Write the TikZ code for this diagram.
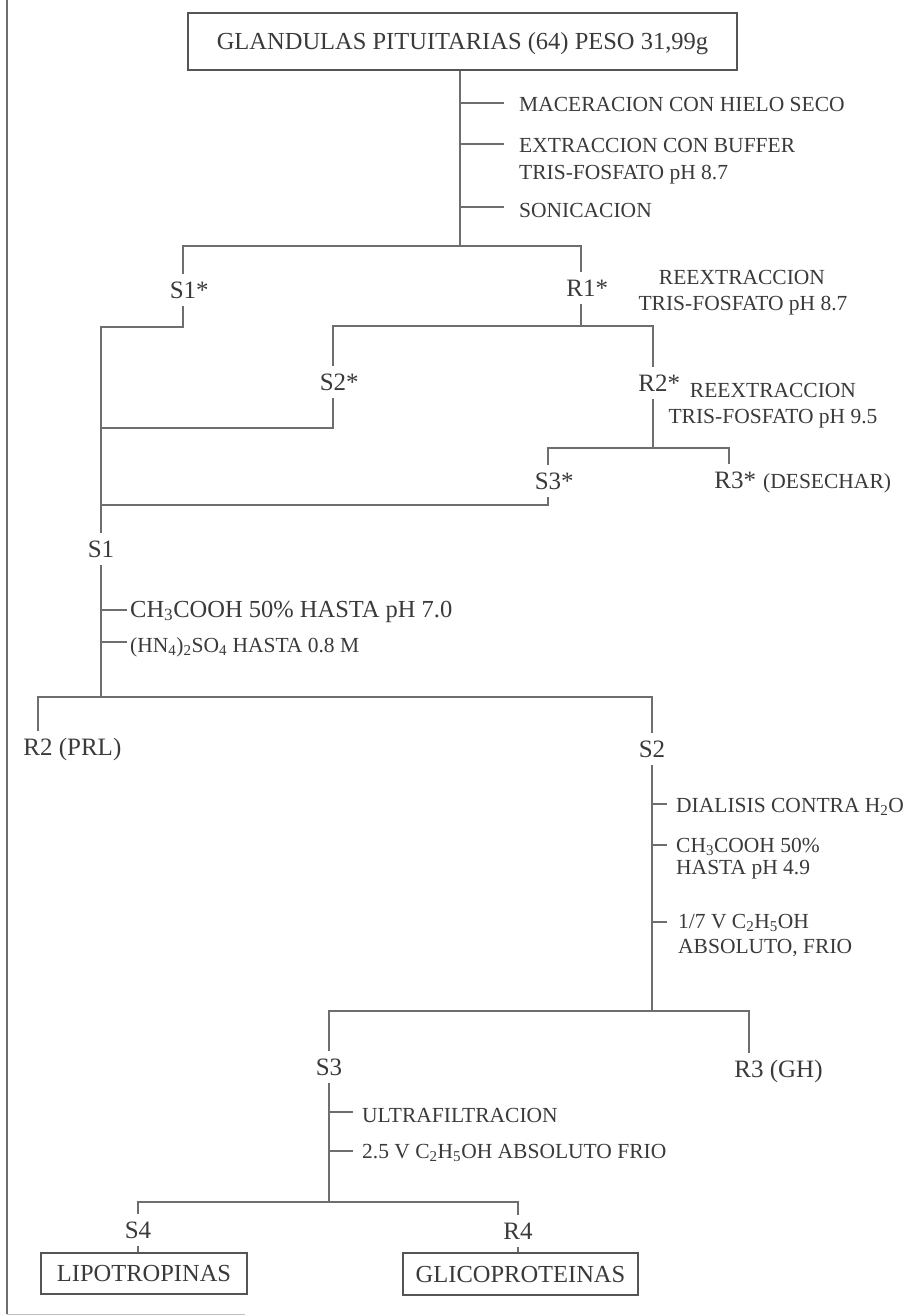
\documentclass[tikz,border=0pt]{standalone}
\usepackage{fontspec}
\setmainfont{Liberation Serif}
\definecolor{txt}{HTML}{3A3A3A}
\definecolor{ln}{HTML}{6E6E6E}
\definecolor{boxc}{HTML}{555555}
\begin{document}
\begin{tikzpicture}[x=1pt,y=-1pt,
  lbl/.style={font=\fontsize{25}{30}\selectfont, text=txt, inner sep=0pt, outer xsep=0pt, outer ysep=8pt, text height=16.5pt, text depth=0pt, anchor=base},
  note/.style={font=\fontsize{21.5}{25}\selectfont, text=txt, inner sep=0pt, anchor=base west},
  notec/.style={font=\fontsize{21.5}{25}\selectfont, text=txt, inner sep=0pt, anchor=base},
  bignote/.style={font=\fontsize{24.5}{29}\selectfont, text=txt, inner sep=0pt, anchor=base west},
  boxnode/.style={draw=boxc, line width=1.6pt, inner sep=0pt, text height=16pt, text depth=0pt, font=\fontsize{24.5}{29}\selectfont, text=txt},
  wire/.style={draw=ln, line width=1.4pt},
  tick/.style={draw=ln, line width=1.3pt}]
\useasboundingbox (0,0) rectangle (908,1316);
% frame remnants
\coordinate (fa) at (7,0);
\coordinate (fb) at (7,1314);
\coordinate (fc) at (245,1314);
\draw[draw=ln, line width=1.4pt] (fa) -- (fb);
\draw[draw=ln!45, line width=1pt] (fb) -- (fc);

% boxes
\node[boxnode, minimum width=549pt, minimum height=57pt] (top) at (462.5,41.5) {GLANDULAS PITUITARIAS (64) PESO 31,99g};
\node[boxnode, minimum width=206pt, minimum height=41pt] (lipo) at (144,1273.5) {LIPOTROPINAS};
\node[boxnode, minimum width=235pt, minimum height=42pt] (glico) at (520.5,1274) {GLICOPROTEINAS};

% labels
\node[lbl] (s1s) at (183,298) {S1\rlap{*}};
\node[lbl] (r1s) at (581,296) {R1\rlap{*}};
\node[lbl] (s2s) at (333,390) {S2\rlap{*}};
\node[lbl] (r2s) at (653,391) {R2\rlap{*}};
\node[lbl] (s3s) at (548,489) {S3\rlap{*}};
\node[lbl] (r3s) at (729,488) {R3\rlap{*}};
\node[note] (desechar) at (763,488) {(DESECHAR)};
\node[lbl] (s1) at (101,557) {S1};
\node[lbl] (r2prl) at (38,755) {R2\rlap{ (PRL)}};
\node[lbl] (s2) at (652,757) {S2};
\node[lbl] (s3) at (329,1075) {S3};
\node[lbl] (r3gh) at (749,1077) {R3\rlap{ (GH)}};
\node[lbl] (s4) at (138,1238) {S4};
\node[lbl] (r4) at (518,1239) {R4};

% annotations
\node[note] (n1) at (519,112) {MACERACION CON HIELO SECO};
\node[note] (n2) at (519,153) {EXTRACCION CON BUFFER};
\node[note] (n2b) at (519,179) {TRIS-FOSFATO pH 8.7};
\node[note] (n3) at (519,217) {SONICACION};
\node[notec] (re1) at (742,284) {REEXTRACCION};
\node[notec] (re1b) at (743,310) {TRIS-FOSFATO pH 8.7};
\node[notec] (re2) at (773,397) {REEXTRACCION};
\node[notec] (re2b) at (773,423) {TRIS-FOSFATO pH 9.5};
\node[bignote] (a1) at (130,617) {CH\textsubscript{3}COOH 50\% HASTA pH 7.0};
\node[note] (a2) at (130,652) {(HN\textsubscript{4})\textsubscript{2}SO\textsubscript{4} HASTA 0.8 M};
\node[note] (b1) at (676,812) {DIALISIS CONTRA H\textsubscript{2}O};
\node[note] (b2) at (676,852) {CH\textsubscript{3}COOH 50\%};
\node[note] (b2b) at (676,874) {HASTA pH 4.9};
\node[note] (b3) at (678,928) {1/7 V C\textsubscript{2}H\textsubscript{5}OH};
\node[note] (b3b) at (678,953) {ABSOLUTO, FRIO};
\node[note] (c1) at (362,1122) {ULTRAFILTRACION};
\node[note] (c2) at (362,1158) {2.5 V C\textsubscript{2}H\textsubscript{5}OH ABSOLUTO FRIO};

% junctions
\coordinate (j1) at (460,246);
\coordinate (j2) at (581,326);
\coordinate (j3) at (653,448);
\coordinate (k1) at (101,327);
\coordinate (k2) at (101,428);
\coordinate (k3) at (101,505);
\coordinate (j4) at (101,697);
\coordinate (j5) at (652,1011);
\coordinate (j6) at (329,1202);

% connectors
\draw[wire] (top.south -| j1) -- (j1);
\draw[wire] (s1s.north) |- (j1) -| (r1s.north);
\draw[wire] (s1s.south) |- (k1) -- (s1.north);
\draw[wire] (r1s.south) -- (j2);
\draw[wire] (s2s.north) |- (j2) -| (r2s.north);
\draw[wire] (s2s.south) |- (k2);
\draw[wire] (r2s.south) -- (j3);
\draw[wire] (s3s.north) |- (j3) -| (r3s.north);
\draw[wire] (s3s.south) |- (k3);
\draw[wire] (s1.south) -- (j4);
\draw[wire] (r2prl.north) |- (j4) -| (s2.north);
\draw[wire] (s2.south) -- (j5);
\draw[wire] (s3.north) |- (j5) -| (r3gh.north);
\draw[wire] (s3.south) -- (j6);
\draw[wire] (s4.north) |- (j6) -| (r4.north);
\draw[wire] (s4.south) -- (lipo.north -| s4.south);
\draw[wire] (r4.south) -- (glico.north -| r4.south);

% ticks
\coordinate (t1) at (460,103); \coordinate (t1e) at (504,103);
\coordinate (t2) at (460,144); \coordinate (t2e) at (504,144);
\coordinate (t3) at (460,207); \coordinate (t3e) at (504,207);
\draw[tick] (t1) -- (t1e);
\draw[tick] (t2) -- (t2e);
\draw[tick] (t3) -- (t3e);
\coordinate (u1) at (101,610); \coordinate (u1e) at (127,610);
\coordinate (u2) at (101,642); \coordinate (u2e) at (127,642);
\draw[tick] (u1) -- (u1e);
\draw[tick] (u2) -- (u2e);
\coordinate (v1) at (652,804); \coordinate (v1e) at (667,804);
\coordinate (v2) at (652,845); \coordinate (v2e) at (667,845);
\coordinate (v3) at (652,922); \coordinate (v3e) at (667,922);
\draw[tick] (v1) -- (v1e);
\draw[tick] (v2) -- (v2e);
\draw[tick] (v3) -- (v3e);
\coordinate (w1) at (329,1112); \coordinate (w1e) at (353,1112);
\coordinate (w2) at (329,1151); \coordinate (w2e) at (353,1151);
\draw[tick] (w1) -- (w1e);
\draw[tick] (w2) -- (w2e);
\end{tikzpicture}
\end{document}
